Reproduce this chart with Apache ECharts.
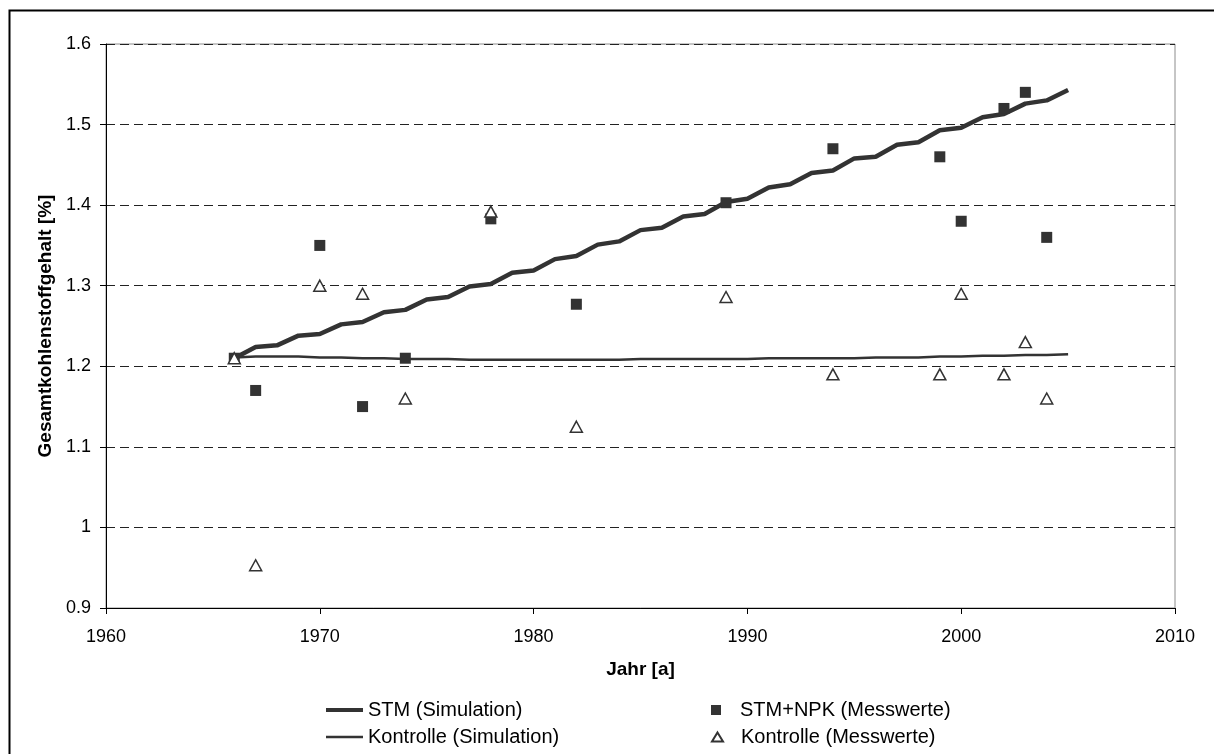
<!DOCTYPE html>
<html>
<head>
<meta charset="utf-8">
<script src="https://cdn.jsdelivr.net/npm/echarts@6/dist/echarts.min.js"></script>
<style>
html,body{margin:0;padding:0;background:#fff;}
#c{width:1214px;height:754px;}
</style>
</head>
<body>
<div id="c"></div>
<script>
// ---- data ----
const simYears = [1966,1967,1968,1969,1970,1971,1972,1973,1974,1975,1976,1977,1978,1979,1980,1981,1982,1983,1984,1985,1986,1987,1988,1989,1990,1991,1992,1993,1994,1995,1996,1997,1998,1999,2000,2001,2002,2003,2004,2005];
const stmSim = [1.210,1.224,1.226,1.238,1.240,1.252,1.255,1.267,1.270,1.283,1.286,1.299,1.302,1.316,1.319,1.333,1.337,1.351,1.355,1.369,1.372,1.386,1.389,1.404,1.408,1.422,1.426,1.440,1.443,1.458,1.460,1.475,1.478,1.493,1.496,1.509,1.513,1.526,1.530,1.543];
const kontrolleSim = [1.211,1.212,1.212,1.212,1.211,1.211,1.210,1.210,1.209,1.209,1.209,1.208,1.208,1.208,1.208,1.208,1.208,1.208,1.208,1.209,1.209,1.209,1.209,1.209,1.209,1.210,1.210,1.210,1.210,1.210,1.211,1.211,1.211,1.212,1.212,1.213,1.213,1.214,1.214,1.215];
const measYears = [1966,1967,1970,1972,1974,1978,1982,1989,1994,1999,2000,2002,2003,2004];
const stmNpkMeas = [1.21,1.17,1.35,1.15,1.21,1.383,1.277,1.403,1.47,1.46,1.38,1.52,1.54,1.36];
const kontrolleMeas = [1.21,0.953,1.30,1.29,1.16,1.392,1.125,1.286,1.19,1.19,1.29,1.19,1.23,1.16];
const xTicks = {min:1960, max:2010, step:10};
const yTicks = {min:0.9, max:1.6, step:0.1};
const names = ['STM (Simulation)','Kontrolle (Simulation)','STM+NPK (Messwerte)','Kontrolle (Messwerte)'];

const zip = (xs, ys) => xs.map((x, i) => [x, ys[i]]);
const FONT = '"Liberation Sans", Arial, sans-serif';
const DARK = '#333333';
const legText = {fontFamily: FONT, fontSize: 20, color: '#000'};

const chart = echarts.init(document.getElementById('c'), null, {renderer:'canvas'});
chart.setOption({
  animation: false,
  backgroundColor: '#ffffff',
  textStyle: {fontFamily: FONT},
  graphic: [{
    type: 'rect', z: 100, silent: true,
    shape: {x: 9.5, y: 10.5, width: 1400, height: 1000},
    style: {fill: 'none', stroke: '#000', lineWidth: 2}
  }],
  grid: {
    left: 106, right: 39, top: 44, bottom: 146,
    show: true, borderColor: '#8c8c8c', borderWidth: 1, backgroundColor: 'transparent'
  },
  legend: [{
    left: 326, top: 700, padding: 0,
    itemWidth: 37, itemHeight: 4, icon: 'rect',
    data: [names[0]], textStyle: legText
  }, {
    left: 326, top: 727, padding: 0,
    itemWidth: 37, itemHeight: 2.5, icon: 'rect',
    data: [names[1]], textStyle: legText
  }, {
    left: 711, top: 700, padding: 0,
    itemWidth: 10, itemHeight: 10, icon: 'rect',
    data: [names[2]], textStyle: Object.assign({}, legText, {padding: [0,0,0,14]})
  }, {
    left: 711, top: 727, padding: 0,
    itemWidth: 11, itemHeight: 9, icon: 'triangle',
    data: [names[3]], textStyle: Object.assign({}, legText, {padding: [0,0,0,13]})
  }],
  xAxis: {
    type: 'value', min: xTicks.min, max: xTicks.max, interval: xTicks.step,
    name: 'Jahr [a]', nameLocation: 'middle', nameGap: 52,
    nameTextStyle: {fontFamily: FONT, fontSize: 19, fontWeight: 'bold', color: '#000'},
    axisLine: {show: true, onZero: false, lineStyle: {color: '#000', width: 1}},
    axisTick: {show: true, inside: false, length: 6, lineStyle: {color: '#000'}},
    axisLabel: {fontFamily: FONT, fontSize: 18, color: '#000', margin: 20,
      formatter: v => String(v)},
    splitLine: {show: false}
  },
  yAxis: {
    type: 'value', min: yTicks.min, max: yTicks.max, interval: yTicks.step,
    name: 'Gesamtkohlenstoffgehalt [%]', nameLocation: 'middle', nameGap: 49, nameRotate: 90,
    nameTextStyle: {fontFamily: FONT, fontSize: 19, fontWeight: 'bold', color: '#000'},
    axisLine: {show: true, onZero: false, lineStyle: {color: '#000', width: 1}},
    axisTick: {show: true, inside: false, length: 6, lineStyle: {color: '#000'}},
    axisLabel: {fontFamily: FONT, fontSize: 18, color: '#000', margin: 15,
      formatter: v => String(Math.round(v * 10) / 10)},
    splitLine: {show: true, lineStyle: {color: '#222', width: 1, type: [9, 5]}}
  },
  series: [{
    name: names[0], type: 'line', data: zip(simYears, stmSim),
    symbol: 'none', showSymbol: false,
    lineStyle: {color: DARK, width: 4.5}, itemStyle: {color: DARK}, z: 3
  }, {
    name: names[1], type: 'line', data: zip(simYears, kontrolleSim),
    symbol: 'none', showSymbol: false,
    lineStyle: {color: DARK, width: 2.5}, itemStyle: {color: DARK}, z: 3
  }, {
    name: names[2], type: 'scatter', data: zip(measYears, stmNpkMeas),
    symbol: 'rect', symbolSize: 11,
    itemStyle: {color: DARK, opacity: 1}, z: 4
  }, {
    name: names[3], type: 'scatter', data: zip(measYears, kontrolleMeas),
    symbol: 'triangle', symbolSize: [12, 11],
    itemStyle: {color: '#fff', borderColor: DARK, borderWidth: 1.5, opacity: 1}, z: 5
  }]
});
</script>
</body>
</html>
